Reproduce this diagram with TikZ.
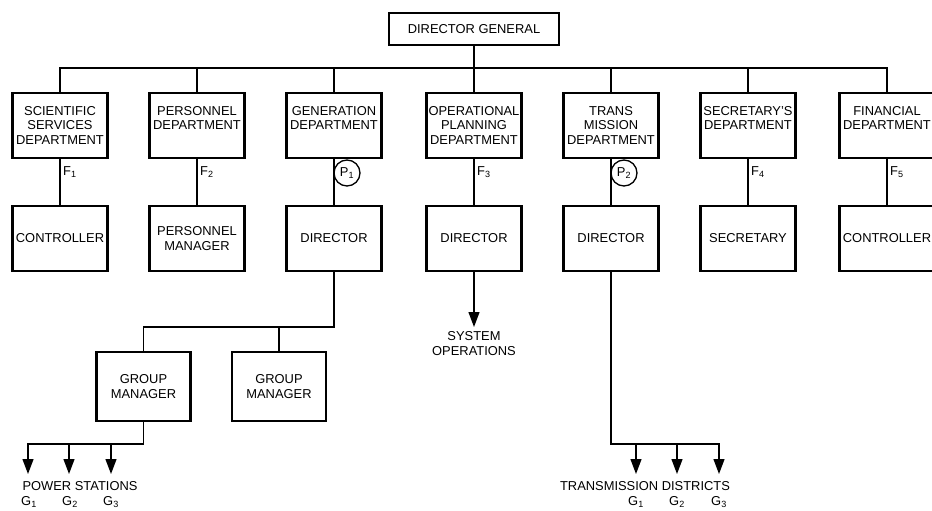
\documentclass[tikz,border=0pt]{standalone}
\usepackage{fontspec}
\setmainfont{Liberation Sans}
\usetikzlibrary{arrows.meta}
\newcommand{\orgfont}{\fontsize{12.9pt}{14.8pt}\selectfont}
\newcommand{\depttext}[1]{\parbox[c][65pt][t]{93pt}{\centering\vspace{13pt}#1}}
\tikzset{
  head/.style={draw, line width=2.8pt, minimum width=170pt, minimum height=32pt, inner sep=0pt},
  dept/.style={draw, line width=2.8pt, minimum width=95pt, minimum height=65pt, inner sep=0pt},
  post/.style={draw, line width=2.8pt, minimum width=95pt, minimum height=65pt, inner sep=0pt, align=center},
  group/.style={draw, line width=2.8pt, minimum width=94pt, minimum height=69pt, inner sep=0pt, align=center},
  link/.style={line width=1.3pt},
  flow/.style={line width=1.3pt, -{Triangle[length=15pt,width=11pt]}},
  pmark/.style={draw, circle, line width=1.3pt, minimum size=26pt, inner sep=0pt},
  flbl/.style={anchor=west, inner sep=0pt},
  lbl/.style={inner sep=0pt, align=center}
}

\begin{document}
\begin{tikzpicture}[x=1pt, y=-1pt, every node/.append style={font=\orgfont}]
  \useasboundingbox (0,0) rectangle (932,511);
  \node[head] (dg) at (474,29) {DIRECTOR GENERAL};
  \node[dept] (sci) at (60,125.5) {\depttext{SCIENTIFIC\\SERVICES\\DEPARTMENT}};
  \node[dept] (pers) at (197,125.5) {\depttext{PERSONNEL\\DEPARTMENT}};
  \node[dept] (gen) at (334,125.5) {\depttext{GENERATION\\DEPARTMENT}};
  \node[dept] (opl) at (474,125.5) {\depttext{OPERATIONAL\\PLANNING\\DEPARTMENT}};
  \node[dept] (trans) at (611,125.5) {\depttext{TRANS\\MISSION\\DEPARTMENT}};
  \node[dept] (secd) at (748,125.5) {\depttext{SECRETARY'S\\DEPARTMENT}};
  \node[dept] (fin) at (887,125.5) {\depttext{FINANCIAL\\DEPARTMENT}};
  \node[post] (ctl) at (60,238.5) {CONTROLLER};
  \node[post] (pman) at (197,238.5) {PERSONNEL\\MANAGER};
  \node[post] (gdir) at (334,238.5) {DIRECTOR};
  \node[post] (odir) at (474,238.5) {DIRECTOR};
  \node[post] (tdir) at (611,238.5) {DIRECTOR};
  \node[post] (secy) at (748,238.5) {SECRETARY};
  \node[post] (fctl) at (887,238.5) {CONTROLLER};
  \node[group] (gm1) at (143.5,386.5) {GROUP\\MANAGER};
  \node[group] (gm2) at (279,386.5) {GROUP\\MANAGER};
  \node[flbl] (f1) at (63,172) {F\textsubscript{1}};
  \node[flbl] (f2) at (200,172) {F\textsubscript{2}};
  \node[flbl] (f3) at (477,172) {F\textsubscript{3}};
  \node[flbl] (f4) at (751,172) {F\textsubscript{4}};
  \node[flbl] (f5) at (890,172) {F\textsubscript{5}};
  \node[pmark] (p1) at (347,173) {P\textsubscript{1}};
  \node[pmark] (p2) at (624,173) {P\textsubscript{2}};
  \node[lbl, inner sep=4pt, anchor=north] (sysop) at (474,327) {SYSTEM\\OPERATIONS};
  \node[lbl] (pwr) at (80,486) {POWER STATIONS};
  \node[lbl] (pg1) at (29,502) {G\textsubscript{1}};
  \node[lbl] (pg2) at (70,502) {G\textsubscript{2}};
  \node[lbl] (pg3) at (111,502) {G\textsubscript{3}};
  \node[lbl] (tdis) at (645,486) {TRANSMISSION DISTRICTS};
  \node[lbl] (tg1) at (636,502) {G\textsubscript{1}};
  \node[lbl] (tg2) at (677,502) {G\textsubscript{2}};
  \node[lbl] (tg3) at (719,502) {G\textsubscript{3}};
  \coordinate (bus) at (474,68);
  \coordinate (gbus) at (334,327);
  \coordinate (pbus) at (28,444);
  \coordinate (tbus) at (719,444);
  \coordinate (pw1) at (28,474);
  \coordinate (pw2) at (69,474);
  \coordinate (pw3) at (111,474);
  \coordinate (td1) at (636,474);
  \coordinate (td2) at (677,474);
  \coordinate (td3) at (719,474);
  \draw[link] (dg) -- (opl);
  \draw[link] (sci.north) |- (bus) -| (fin.north);
  \foreach \d in {pers,gen,trans,secd}
    \draw[link] (\d.north) -- (\d.north |- bus);
  \foreach \a/\b in {sci/ctl,pers/pman,gen/gdir,opl/odir,trans/tdir,secd/secy,fin/fctl}
    \draw[link] (\a) -- (\b);
  \draw[link] (gdir.south) -- (gbus) -| (gm1.north);
  \draw[link] (gbus -| gm2.north) -- (gm2.north);
  \draw[flow] (odir) -- (sysop);
  \draw[flow] (gm1.south) |- (pbus) -- (pw1);
  \draw[flow] (pbus -| pw2) -- (pw2);
  \draw[flow] (pbus -| pw3) -- (pw3);
  \draw[flow] (tdir.south) |- (tbus) -- (td3);
  \draw[flow] (tbus -| td1) -- (td1);
  \draw[flow] (tbus -| td2) -- (td2);
\end{tikzpicture}
\end{document}
